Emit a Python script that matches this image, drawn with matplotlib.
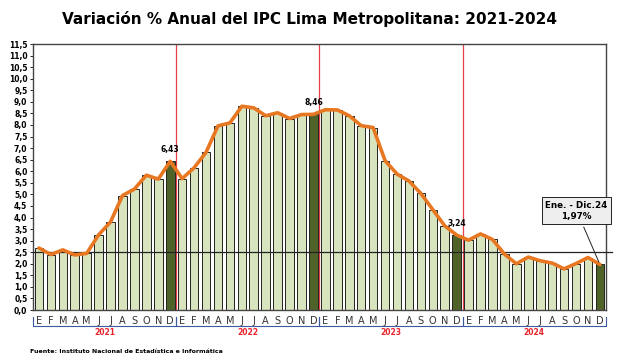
import numpy as np
import matplotlib.pyplot as plt

months = ["E", "F", "M", "A", "M", "J", "J", "A", "S", "O", "N", "D"]
years = ["2021", "2022", "2023", "2024"]
ipc = [2.68, 2.40, 2.60, 2.38, 2.45, 3.25, 3.81, 4.95, 5.23, 5.83, 5.66, 6.43,
       5.68, 6.15, 6.82, 7.96, 8.09, 8.81, 8.74, 8.40, 8.53, 8.28, 8.45, 8.46,
       8.66, 8.65, 8.40, 7.97, 7.89, 6.46, 5.88, 5.58, 5.04, 4.34, 3.64, 3.24,
       3.02, 3.29, 3.05, 2.42, 2.00, 2.29, 2.13, 2.03, 1.78, 2.01, 2.27, 1.97]
labels = {11: "6,43", 23: "8,46", 35: "3,24"}
target = 2.5

x = np.arange(len(ipc))
colors = ["#4f6228" if i % 12 == 11 else "#d7e4bd" for i in x]

fig = plt.figure(figsize=(6.2, 3.58), dpi=100)
ax = fig.add_axes([0.0532, 0.134, 0.924, 0.743])

ax.bar(x, ipc, width=0.72, color=colors, edgecolor="#222222", linewidth=0.7, zorder=2)
ax.plot(x, ipc, color="#e87722", linewidth=2.6, solid_joinstyle="round",
        solid_capstyle="round", zorder=4)
ax.axhline(target, color="#222222", linewidth=0.9, zorder=3, xmax=1.01, clip_on=False)
for b in [11.5, 23.5, 35.5]:
    ax.axvline(b, color="#e8404a", linewidth=0.9, zorder=1)

for i, t in labels.items():
    ax.text(i, ipc[i] + 0.3, t, ha="center", va="bottom", fontsize=5.5, fontweight="bold")

ax.annotate("Ene. - Dic.24\n1,97%", xy=(47, ipc[47]), xytext=(45.05, 4.3),
            ha="center", va="center", fontsize=6.3, fontweight="bold",
            family="Liberation Sans Narrow", linespacing=1.3,
            bbox=dict(boxstyle="square,pad=0.4", fc="#eeeeee", ec="#222222", lw=0.7),
            arrowprops=dict(arrowstyle="-", color="#222222", lw=0.7), zorder=6)

ax.set_xlim(-0.5, len(ipc) - 0.5)
ax.set_ylim(0, 11.5)
ax.set_yticks(np.arange(0, 11.51, 0.5))
ax.set_yticklabels([f"{v:.1f}".replace(".", ",") for v in np.arange(0, 11.51, 0.5)],
                   fontsize=5.5, fontweight="bold")
ax.tick_params(axis="y", length=2, width=0.6, pad=2)
ax.set_xticks([])
for s in ax.spines.values():
    s.set_color("#444444")
    s.set_linewidth(1.0)

# month letters, year labels and brackets
for i in x:
    ax.text(i, -0.47, months[i % 12], ha="center", va="center", fontsize=7,
            color="#333333", clip_on=False)
for k, yr in enumerate(years):
    x0, x1 = 12 * k - 0.5, 12 * k + 11.5
    ax.plot([x0, x0, x1, x1], [-0.28, -0.68, -0.68, -0.28], color="#3a5ba0",
            linewidth=0.8, clip_on=False)
    ax.text((x0 + x1) / 2, -0.98, yr, ha="center", va="center", fontsize=5.5,
            fontweight="bold", color="#e8232a", clip_on=False)

fig.text(0.5, 0.948, "Variación % Anual del IPC Lima Metropolitana: 2021-2024",
         ha="center", va="center", fontsize=11, fontweight="bold")
fig.text(0.048, 0.017, "Fuente: Instituto Nacional de Estadística e Informática",
         ha="left", va="center", fontsize=4.5, fontweight="bold")

fig.savefig("out.png", dpi=100)
